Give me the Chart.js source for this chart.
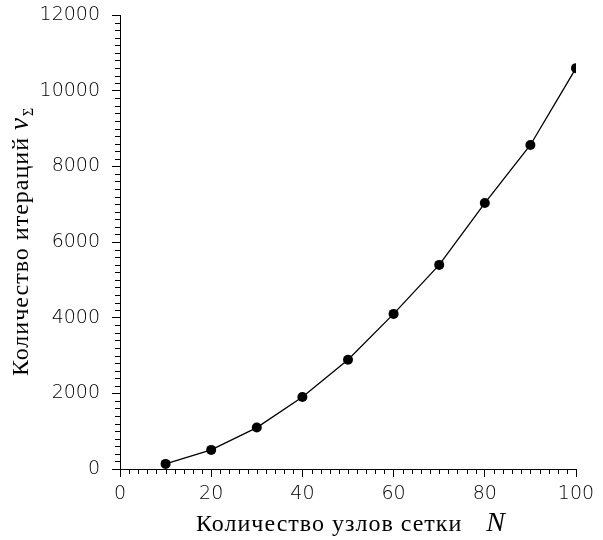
<!DOCTYPE html>
<html>
<head>
<meta charset="utf-8">
<script src="https://cdn.jsdelivr.net/npm/chart.js@4"></script>
<style>
  html, body { margin: 0; padding: 0; background: #fff; }
  #wrap { width: 603px; height: 540px; }
</style>
</head>
<body>
<div id="wrap"><canvas id="chart" width="603" height="540"></canvas></div>
<script>
// узлы сетки и число итераций
const nodes = [10, 20, 30, 40, 50, 60, 70, 80, 90, 100];
const iterations = [135, 505, 1095, 1905, 2890, 4100, 5395, 7030, 8565, 10595];

const xTicks = [0, 20, 40, 60, 80, 100];
const yTicks = [0, 2000, 4000, 6000, 8000, 10000, 12000];
const xMinorStep = 2;
const yMinorStep = 200;

const xTitle = 'Количество узлов сетки';
const yTitle = 'Количество итераций ';

const tickFont = { family: 'DejaVu Sans', size: 19, weight: 300 };

// мелкие засечки и подписи осей
const axisExtras = {
    id: 'axisExtras',
    afterDraw(chart) {
        const ctx = chart.ctx;
        const x = chart.scales.x;
        const y = chart.scales.y;
        ctx.save();
        ctx.strokeStyle = '#000';
        ctx.lineWidth = 1;
        ctx.beginPath();
        for (let v = x.min; v <= x.max; v += xMinorStep) {
            if (v % 20 === 0) continue;
            const px = Math.round(x.getPixelForValue(v)) + 0.5;
            ctx.moveTo(px, y.bottom);
            ctx.lineTo(px, y.bottom + 5);
        }
        for (let v = y.min; v <= y.max; v += yMinorStep) {
            if (v % 2000 === 0) continue;
            const py = Math.round(y.getPixelForValue(v)) + 0.5;
            ctx.moveTo(x.left, py);
            ctx.lineTo(x.left - 5, py);
        }
        ctx.stroke();

        ctx.fillStyle = '#000';
        ctx.textBaseline = 'alphabetic';
        ctx.letterSpacing = '1px';
        // x title
        ctx.font = '24px "Liberation Serif"';
        const w1 = ctx.measureText(xTitle).width;
        ctx.font = 'italic 28px "Liberation Serif"';
        const wN = ctx.measureText('N').width;
        const gap = 24;
        let sx = (x.left + x.right) / 2 + 3 - (w1 + gap + wN) / 2;
        ctx.font = '24px "Liberation Serif"';
        ctx.fillText(xTitle, sx, 531);
        ctx.font = 'italic 28px "Liberation Serif"';
        ctx.fillText('N', sx + w1 + gap, 531);

        // y title
        ctx.translate(28, (y.top + y.bottom) / 2);
        ctx.rotate(-Math.PI / 2);
        ctx.font = '24px "Liberation Serif"';
        const t1 = ctx.measureText(yTitle).width;
        ctx.font = 'italic 27px "Liberation Serif"';
        const tn = ctx.measureText('ν').width;
        ctx.font = '14px "Liberation Serif"';
        const ts = ctx.measureText('Σ').width;
        let sy = -(t1 + tn + ts) / 2;
        ctx.font = '24px "Liberation Serif"';
        ctx.fillText(yTitle, sy, 0);
        ctx.font = 'italic 27px "Liberation Serif"';
        ctx.fillText('ν', sy + t1, 0);
        ctx.font = '14px "Liberation Serif"';
        ctx.fillText('Σ', sy + t1 + tn + 1, 5);
        ctx.restore();
    }
};

let ctx = document.getElementById('chart').getContext('2d');
let chart = new Chart(ctx, {
    type: 'line',
    data: {
        datasets: [{
            data: nodes.map((n, i) => ({ x: n, y: iterations[i] })),
            borderColor: '#000',
            borderWidth: 1.3,
            backgroundColor: '#000',
            pointRadius: 5,
            pointBorderWidth: 0,
            tension: 0
        }]
    },
    options: {
        responsive: false,
        animation: false,
        layout: { padding: { left: 0, top: 15, right: 27, bottom: 0 } },
        plugins: {
            legend: { display: false },
            tooltip: { enabled: false }
        },
        scales: {
            x: {
                type: 'linear',
                min: 0,
                max: 100,
                afterBuildTicks: s => { s.ticks = xTicks.map(v => ({ value: v })); },
                afterFit: s => { s.height = 71; s.paddingLeft = 0; s.paddingRight = 0; },
                ticks: { font: tickFont, color: '#000', padding: 6, maxRotation: 0, callback: v => String(v) },
                grid: { drawOnChartArea: false, tickLength: 8, tickColor: '#000' },
                border: { color: '#000', width: 1 }
            },
            y: {
                min: 0,
                max: 12000,
                afterBuildTicks: s => { s.ticks = yTicks.map(v => ({ value: v })); },
                afterFit: s => { s.width = 120; s.paddingTop = 0; s.paddingBottom = 0; },
                ticks: { font: tickFont, color: '#000', padding: 12, callback: v => String(v) },
                grid: { drawOnChartArea: false, tickLength: 8, tickColor: '#000' },
                border: { color: '#000', width: 1 }
            }
        }
    },
    plugins: [axisExtras]
});
</script>
</body>
</html>
